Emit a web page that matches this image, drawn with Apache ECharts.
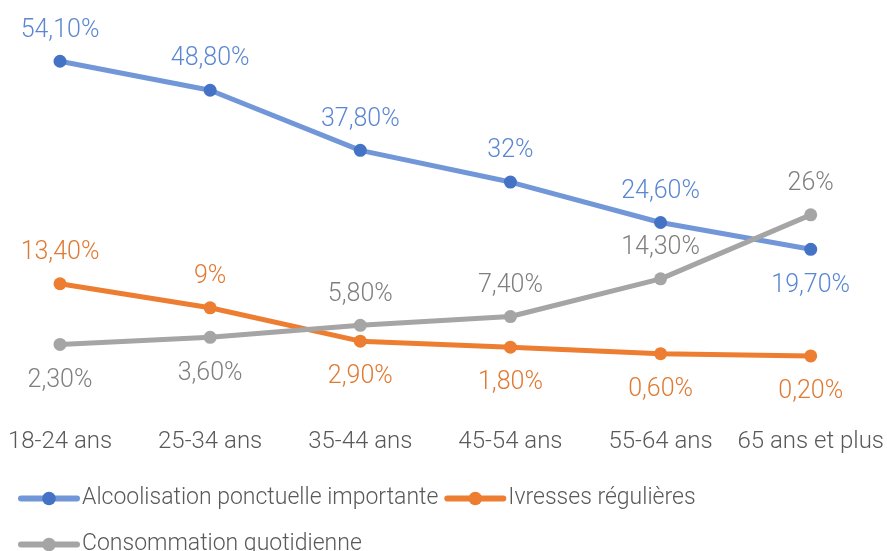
<!DOCTYPE html>
<html>
<head>
<meta charset="utf-8">
<script src="https://cdn.jsdelivr.net/npm/echarts@6/dist/echarts.min.js"></script>
<style>
  html, body { margin: 0; padding: 0; background: #fff; }
  #chart { width: 887px; height: 551px; }
</style>
</head>
<body>
<div id="chart"></div>
<script>
const categories = ["18-24 ans", "25-34 ans", "35-44 ans", "45-54 ans", "55-64 ans", "65 ans et plus"];
const alcoolisation = [54.1, 48.8, 37.8, 32, 24.6, 19.7];
const ivresses = [13.4, 9, 2.9, 1.8, 0.6, 0.2];
const quotidienne = [2.3, 3.6, 5.8, 7.4, 14.3, 26];

const FONT = "Roboto";

// Excel-style percent: "54,10%" but "32%"
const fmt = (v) => (Number.isInteger(v) ? String(v) : v.toFixed(2).replace(".", ",")) + "%";

function withLabels(values, places, color) {
  return values.map((v, i) => ({
    value: v,
    label: {
      show: true,
      position: places[i],
      distance: places[i] === "top" ? 12 : 17,
      color: color,
      fontFamily: FONT,
      fontWeight: 300,
      fontSize: 25,
      formatter: () => fmt(v),
    },
  }));
}

const chart = echarts.init(document.getElementById("chart"));
const legendText = { color: "#595959", fontFamily: FONT, fontWeight: 300, fontSize: 23 };
const legendLine = { width: 6, cap: "round" };
const legendItem = (name) => ({ name, lineStyle: legendLine });

chart.setOption({
  animation: false,
  grid: { left: 60, right: 76, top: 29, bottom: 194 },
  legend: [
    {
      left: 18, top: 487, padding: 0, itemWidth: 56, itemHeight: 17, itemGap: 6,
      data: [legendItem("Alcoolisation ponctuelle importante"), legendItem("Ivresses régulières")],
      textStyle: legendText,
      lineStyle: legendLine,
    },
    {
      left: 18, top: 533, padding: 0, itemWidth: 56, itemHeight: 17,
      data: [legendItem("Consommation quotidienne")],
      textStyle: legendText,
      lineStyle: legendLine,
    },
  ],
  xAxis: {
    type: "category",
    boundaryGap: false,
    data: categories,
    axisLine: { show: false },
    axisTick: { show: false },
    axisLabel: { interval: 0, margin: 73, color: "#595959", fontFamily: FONT, fontWeight: 300, fontSize: 24 },
  },
  yAxis: {
    type: "value",
    min: 0,
    max: 60,
    show: false,
    splitLine: { show: false },
  },
  series: [
    {
      name: "Alcoolisation ponctuelle importante",
      type: "line",
      symbol: "circle",
      symbolSize: 13,
      lineStyle: { width: 5, color: "#7197D8" },
      itemStyle: { color: "#4472C4" },
      data: withLabels(alcoolisation, ["top", "top", "top", "top", "top", "bottom"], "#5B87D2"),
    },
    {
      name: "Ivresses régulières",
      type: "line",
      symbol: "circle",
      symbolSize: 13,
      lineStyle: { width: 5, color: "#ED7D31" },
      itemStyle: { color: "#ED7D31" },
      data: withLabels(ivresses, ["top", "top", "bottom", "bottom", "bottom", "bottom"], "#E07A33"),
    },
    {
      name: "Consommation quotidienne",
      type: "line",
      symbol: "circle",
      symbolSize: 13,
      lineStyle: { width: 5, color: "#A5A5A5" },
      itemStyle: { color: "#A5A5A5" },
      data: withLabels(quotidienne, ["bottom", "bottom", "top", "top", "top", "top"], "#7F7F7F"),
    },
  ],
});
</script>
</body>
</html>
